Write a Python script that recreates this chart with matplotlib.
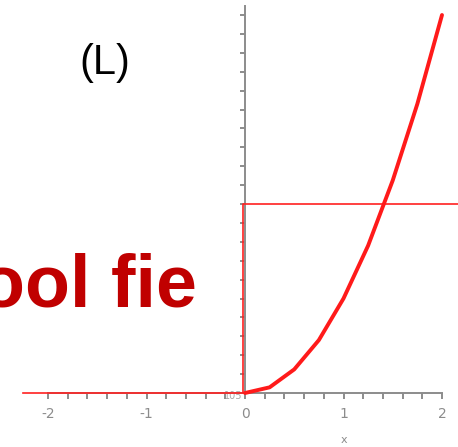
import matplotlib
matplotlib.use("Agg")
import matplotlib.pyplot as plt
from matplotlib.ticker import FixedLocator

# curve samples (x, y)
curve_x = [0, 0.25, 0.5, 0.75, 1.0, 1.25, 1.5, 1.75, 2.0]
curve_y = [0, 0.06, 0.25, 0.56, 1.0, 1.56, 2.25, 3.06, 4.0]

# step line: zero on the left, jump at x=0 up to level 2
step_x = [-2.25, -0.02, -0.02, 2.3]
step_y = [0, 0, 2.0, 2.0]

x_major = [-2, -1, 0, 1, 2]
x_labels = ["-2", "-1", "0", "1", "2"]
x_minor = [i / 5 for i in range(-10, 11) if i % 5]
y_ticks = [i / 5 for i in range(0, 21)]

W, H = 458, 447
fig = plt.figure(figsize=(W / 100, H / 100), dpi=100)
ax = fig.add_axes([0, 0, 1, 1])

ax.set_xlim(-245 / 98.5, (W - 245) / 98.5)
ax.set_ylim((393 - H) / 94.5, 393 / 94.5)

axis_grey = "#8c8c8c"
for side in ("top", "right"):
    ax.spines[side].set_visible(False)
ax.spines["left"].set_position(("data", 0))
ax.spines["bottom"].set_position(("data", 0))
ax.spines["bottom"].set_bounds(-2, 2)
ax.spines["left"].set_bounds(0, 4.1)
for side in ("left", "bottom"):
    ax.spines[side].set_color(axis_grey)
    ax.spines[side].set_linewidth(1.4)

ax.xaxis.set_major_locator(FixedLocator(x_major))
ax.set_xticklabels(x_labels)
ax.xaxis.set_minor_locator(FixedLocator(x_minor))
ax.yaxis.set_major_locator(FixedLocator(y_ticks))
ax.yaxis.set_minor_locator(FixedLocator([]))
ax.set_yticklabels([])
ax.tick_params(axis="x", which="both", direction="out", length=4, width=1.4,
               color=axis_grey, labelcolor=axis_grey, labelsize=10, pad=6)
ax.tick_params(axis="y", which="both", direction="out", length=3.5, width=1.4,
               color=axis_grey)

ax.text(1.0, -0.5, "x", color=axis_grey, fontsize=8, ha="center", va="center")
ax.text(-0.12, -0.03, "105", color="#a8a8a8", fontsize=7, ha="center",
        va="center", zorder=1)

ax.plot(step_x, step_y, color="#ff2020", lw=1.2, zorder=4, clip_on=False)
ax.plot(curve_x, curve_y, color="#ff1a1a", lw=2.8, zorder=5,
        solid_joinstyle="round", solid_capstyle="round")

ax.text(-1.42, 3.49, "(L)", fontsize=30, family="Liberation Sans",
        ha="center", va="center", color="black")
ax.text(-0.49, 0.92, "ool fie", fontsize=53, family="Liberation Sans",
        fontweight="bold", color="#c00000", ha="right", va="baseline")

fig.savefig("out.png", dpi=100)
